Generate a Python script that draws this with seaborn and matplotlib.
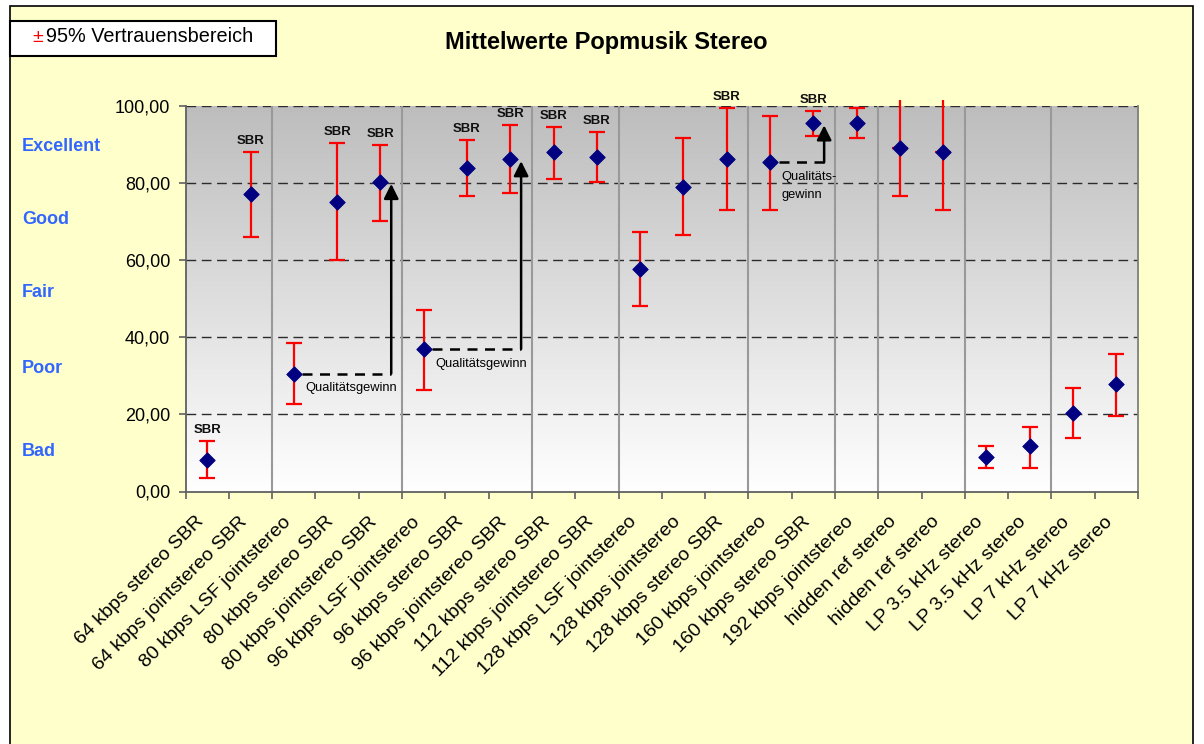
import numpy as np
import matplotlib
matplotlib.use("Agg")
import matplotlib.pyplot as plt
import matplotlib.patches as mpatches
import matplotlib.transforms as mtransforms
from matplotlib.colors import LinearSegmentedColormap
import seaborn as sns

# Mittelwerte + 95% Vertrauensbereich, Popmusik Stereo
labels = ["64 kbps stereo SBR", "64 kbps jointstereo SBR", "80 kbps LSF jointstereo",
          "80 kbps stereo SBR", "80 kbps jointstereo SBR", "96 kbps LSF jointstereo",
          "96 kbps stereo SBR", "96 kbps jointstereo SBR", "112 kbps stereo SBR",
          "112 kbps jointstereo SBR", "128 kbps LSF jointstereo", "128 kbps jointstereo",
          "128 kbps stereo SBR", "160 kbps jointstereo", "160 kbps stereo SBR",
          "192 kbps jointstereo", "hidden ref stereo", "hidden ref stereo",
          "LP 3.5 kHz stereo", "LP 3.5 kHz stereo", "LP 7 kHz stereo", "LP 7 kHz stereo"]
means = [8.1, 77.1, 30.6, 75.1, 80.3, 37.0, 83.9, 86.2, 88.1, 86.7, 57.7,
         78.9, 86.2, 85.4, 95.5, 95.5, 89.0, 88.1, 8.9, 11.7, 20.4, 27.8]
upper = [13.0, 88.1, 38.4, 90.5, 90.0, 47.1, 91.2, 95.1, 94.5, 93.2, 67.3,
         91.7, 99.6, 97.3, 98.7, 99.6, 101.6, 101.6, 11.7, 16.7, 26.9, 35.6]
lower = [3.4, 66.1, 22.8, 60.0, 70.2, 26.4, 76.6, 77.5, 81.1, 80.3, 48.1,
         66.5, 72.9, 72.9, 92.3, 91.8, 76.6, 72.9, 6.2, 6.2, 13.9, 19.5]
sbr_marked = [0, 1, 3, 4, 6, 7, 8, 9, 12, 14]
group_edges = [2, 5, 8, 10, 13, 15, 16, 18, 20]
quality_levels = ["Excellent", "Good", "Fair", "Poor", "Bad"]
quality_pos = [89.5, 70.5, 51.5, 32, 10.5]
gains = [(2, 4), (5, 7), (13, 14)]   # (von, nach)
gain_text = ["Qualitätsgewinn", "Qualitätsgewinn", "Qualitäts-\ngewinn"]

sns.set_theme(style="white")
plt.rcParams['font.family'] = ['Liberation Sans', 'DejaVu Sans']
plt.rcParams['text.color'] = 'black'
plt.rcParams['xtick.labelcolor'] = 'black'
plt.rcParams['ytick.labelcolor'] = 'black'

x = np.arange(len(labels))
means = np.array(means)
upper = np.array(upper)
lower = np.array(lower)

fig = plt.figure(figsize=(12.04, 7.44), dpi=100)
fig.patch.set_facecolor("white")
fig.patches.append(mpatches.Rectangle((9.5 / 1204, -0.05), (1193 - 9.5) / 1204, 1.05 - 6 / 744,
                                      transform=fig.transFigure, facecolor="#FFFFCC",
                                      edgecolor="black", lw=1.2, zorder=-10))
fig.patches.append(mpatches.Rectangle((9.5 / 1204, 1 - 56 / 744), (276 - 9.5) / 1204, 35 / 744,
                                      transform=fig.transFigure, facecolor="white",
                                      edgecolor="black", lw=1.5, zorder=1))
fig.text(32 / 1204, 1 - 37 / 744, "±", color="red", fontsize=14, va="center")
fig.text(46 / 1204, 1 - 37 / 744, "95% Vertrauensbereich", color="black", fontsize=14.3, va="center")
fig.text(0.5035, 1 - 42 / 744, "Mittelwerte Popmusik Stereo", fontsize=17,
         fontweight="bold", ha="center", va="center")

ax = fig.add_axes([185.6 / 1204, 1 - 491.5 / 744, (1138 - 185.6) / 1204, (491.5 - 106) / 744])
ax.set_facecolor("none")

# Hintergrundverlauf grau -> weiss
cmap = LinearSegmentedColormap.from_list("bg", ["#FFFFFF", "#BDBDBD"])
ax.imshow(np.linspace(0, 1, 256).reshape(-1, 1), cmap=cmap, origin="lower",
          extent=[0, 1, 0, 1], transform=ax.transAxes, aspect="auto", zorder=0)

ax.set_xlim(-0.5, len(labels) - 0.5)
ax.set_ylim(0, 100)

for v in [20, 40, 60, 80, 100]:
    ax.axhline(v, color="#2b2b2b", lw=1.0, ls=(0, (7, 4)), zorder=1)
for e in group_edges:
    ax.axvline(e - 0.5, color="#999999", lw=1.5, zorder=1)

# Fehlerbalken
inside = upper <= 100
ax.errorbar(x[inside], means[inside], yerr=[means[inside] - lower[inside], upper[inside] - means[inside]],
            fmt="none", ecolor="red", elinewidth=1.6, capsize=5.5, capthick=1.6, zorder=3, clip_on=False)
ax.errorbar(x[~inside], means[~inside], yerr=[means[~inside] - lower[~inside], np.zeros((~inside).sum())],
            fmt="none", ecolor="red", elinewidth=1.6, capsize=5.5, capthick=1.6, zorder=3, clip_on=False)
ax.vlines(x[~inside], means[~inside], upper[~inside], color="red", lw=1.6, zorder=3, clip_on=False)

sns.scatterplot(x=x, y=means, marker="D", color="#000080", edgecolor="#000080",
                s=62, zorder=5, ax=ax, clip_on=False)

for i in sbr_marked:
    ax.text(i, upper[i] + 1.3, "SBR", fontsize=9.5, fontweight="bold", ha="center",
            va="bottom", color="#111111", clip_on=False)

# Qualitaetsgewinn-Pfeile
for (a, b), txt in zip(gains, gain_text):
    xe = b + 0.25
    ax.plot([a + 0.2, xe], [means[a], means[a]], color="black", lw=1.8, ls=(0, (4, 3)), zorder=4)
    ax.annotate("", xy=(xe, means[b] - 0.5), xytext=(xe, means[a]),
                arrowprops=dict(arrowstyle="-|>", color="black", lw=1.8, mutation_scale=22,
                                shrinkA=0, shrinkB=0), zorder=4)
    ax.text(a + 0.27, means[a] - 2.3, txt, fontsize=9.3, ha="left", va="top",
            linespacing=1.6, zorder=4)

# Achsen
ax.spines["top"].set_visible(False)
ax.spines["right"].set_color("#808080")
ax.spines["left"].set_color("#606060")
ax.spines["bottom"].set_color("#606060")
for s in ["left", "bottom", "right"]:
    ax.spines[s].set_linewidth(1.3)

ax.set_yticks([0, 20, 40, 60, 80, 100])
ax.set_yticklabels([f"{v:.2f}".replace(".", ",") for v in [0, 20, 40, 60, 80, 100]], fontsize=13)
ax.tick_params(axis="y", direction="out", length=5, width=1.2, color="#606060", pad=6, left=True)

ax.set_xticks(x)
ax.set_xticklabels(labels, rotation=45, ha="right", va="center", rotation_mode="anchor", fontsize=14)
ax.set_xticks(np.arange(-0.5, len(labels), 1), minor=True)
ax.tick_params(axis="x", which="major", length=0, pad=20)
ax.tick_params(axis="x", which="minor", direction="out", length=5, width=1.2, color="#606060", bottom=True)
shift = mtransforms.ScaledTranslation(-6 / 100, 0, fig.dpi_scale_trans)
for lab in ax.get_xticklabels():
    lab.set_transform(lab.get_transform() + shift)

trans = mtransforms.blended_transform_factory(fig.transFigure, ax.transData)
for lvl, pos in zip(quality_levels, quality_pos):
    ax.text(22 / 1204, pos, lvl, transform=trans, color="#3366FF", fontsize=13,
            fontweight="bold", ha="left", va="center", clip_on=False)

fig.savefig("out.png", dpi=100, facecolor=fig.get_facecolor())
